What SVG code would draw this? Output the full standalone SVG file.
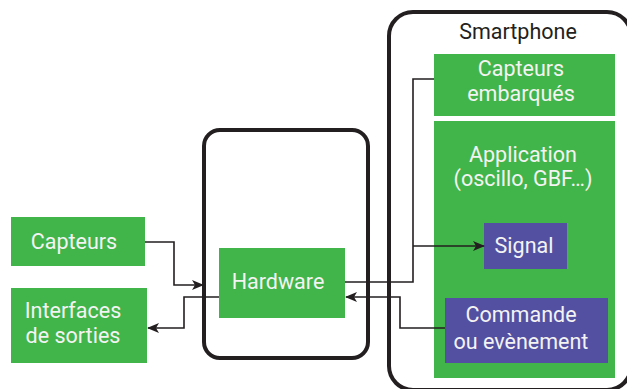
<svg xmlns="http://www.w3.org/2000/svg" width="627" height="389" viewBox="0 0 627 389">
<style>
.g{fill:#42b54a}
.p{fill:#5350a2}
.frame{fill:none;stroke:#231f20;stroke-width:4}
.t{font-family:Roboto,"Liberation Sans",sans-serif;font-size:21.5px;fill:#f3f3f3;text-anchor:middle}
.tk{font-family:Roboto,"Liberation Sans",sans-serif;font-size:21.5px;fill:#231f20;text-anchor:middle}
.c{fill:none;stroke:#231f20;stroke-width:1.6}
</style>
<defs>
<marker id="ah" viewBox="0 0 12 10" refX="11" refY="5" markerWidth="12" markerHeight="10" markerUnits="userSpaceOnUse" orient="auto">
<path d="M0,0 L12,5 L0,10 L3,5 Z" fill="#231f20"/>
</marker>
</defs>
<rect width="627" height="389" fill="#ffffff"/>
<g id="smartphone">
<rect class="frame" x="389" y="12" width="242" height="378" rx="24"/>
<text class="tk" x="518" y="39">Smartphone</text>
</g>
<g id="hardware-frame">
<rect class="frame" x="204" y="130" width="164" height="228" rx="16"/>
</g>
<g id="capteurs">
<rect class="g" x="11" y="217" width="134" height="49"/>
<text class="t" x="74" y="249">Capteurs</text>
</g>
<g id="interfaces">
<rect class="g" x="11" y="288" width="136" height="75"/>
<text class="t" x="73" y="318">Interfaces</text>
<text class="t" x="73" y="343">de sorties</text>
</g>
<g id="hardware">
<rect class="g" x="219" y="248" width="126" height="70"/>
<text class="t" x="278" y="289">Hardware</text>
</g>
<g id="capteurs-embarques">
<rect class="g" x="434" y="54" width="181" height="62"/>
<text class="t" x="521" y="76">Capteurs</text>
<text class="t" x="521" y="101">embarqués</text>
</g>
<g id="application">
<rect class="g" x="434" y="121" width="181" height="257"/>
<text class="t" x="523" y="162">Application</text>
<text class="t" x="523" y="186">(oscillo, GBF…)</text>
</g>
<g id="signal">
<rect class="p" x="484" y="223" width="83" height="46"/>
<text class="t" x="524" y="253">Signal</text>
</g>
<g id="commande">
<rect class="p" x="445" y="298" width="163" height="65"/>
<text class="t" x="521" y="322">Commande</text>
<text class="t" x="521" y="349">ou evènement</text>
</g>
<g id="connectors">
<polyline class="c" points="145,242 174,242 174,285 203,285" marker-end="url(#ah)"/>
<polyline class="c" points="219,297 184,297 184,328 148,328" marker-end="url(#ah)"/>
<polyline class="c" points="345,282 413,282 413,79 434,79"/>
<polyline class="c" points="413,246 484,246" marker-end="url(#ah)"/>
<polyline class="c" points="445,328 400,328 400,297 346,297" marker-end="url(#ah)"/>
</g>
</svg>
